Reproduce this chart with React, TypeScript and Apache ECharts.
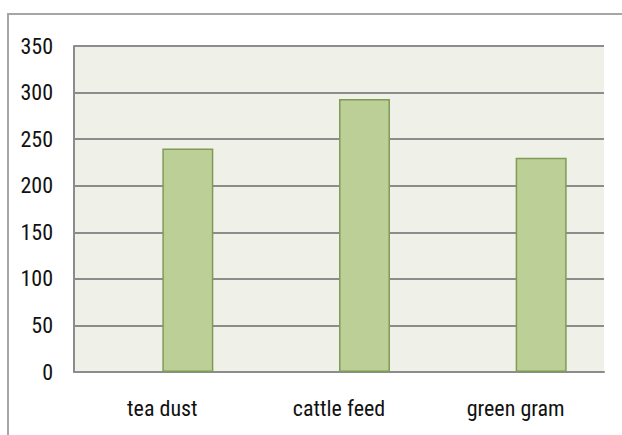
import React, { useEffect, useRef } from "react";
import * as echarts from "echarts";

const categories = ["tea dust", "cattle feed", "green gram"];
const emptySeries: (number | null)[] = [null, null, null];
const values = [240, 293, 230];
const yTicks = { min: 0, max: 350, interval: 50 };

export default function App() {
  const ref = useRef<HTMLDivElement>(null);
  useEffect(() => {
    const chart = echarts.init(ref.current!, null, { renderer: "svg" });
    const font = "'Roboto Condensed', 'Liberation Sans', sans-serif";
    chart.setOption({
      animation: false,
      backgroundColor: "#ffffff",
      graphic: [
        {
          type: "rect",
          shape: { x: 8, y: 14, width: 640, height: 440 },
          style: { fill: "none", stroke: "#a6a6a6", lineWidth: 2 },
          silent: true,
        },
      ],
      grid: {
        left: 74,
        top: 46,
        right: 18,
        bottom: 63,
        show: true,
        backgroundColor: "#eff1e8",
        borderWidth: 0,
      },
      xAxis: {
        type: "category",
        data: categories,
        axisTick: { show: false },
        axisLine: { show: true, lineStyle: { color: "#8c8c8c", width: 2 } },
        axisLabel: { color: "#111111", fontFamily: font, fontSize: 22, margin: 25 },
      },
      yAxis: {
        type: "value",
        min: yTicks.min,
        max: yTicks.max,
        interval: yTicks.interval,
        axisLine: { show: true, lineStyle: { color: "#8c8c8c", width: 2 } },
        axisTick: { show: false },
        splitLine: { show: true, lineStyle: { color: "#8c8c8c", width: 2 } },
        axisLabel: { color: "#111111", fontFamily: font, fontSize: 22, margin: 21 },
      },
      series: [
        {
          type: "bar",
          data: emptySeries,
          barWidth: 51,
          barGap: "0%",
        },
        {
          type: "bar",
          data: values,
          barWidth: 51,
          barGap: "0%",
          itemStyle: { color: "#bbcf96", borderColor: "#7f9b57", borderWidth: 1.5 },
        },
      ],
    });
    return () => chart.dispose();
  }, []);
  return (
    <div
      ref={ref}
      style={{ position: "fixed", left: 0, top: 0, width: 622, height: 435 }}
    />
  );
}
